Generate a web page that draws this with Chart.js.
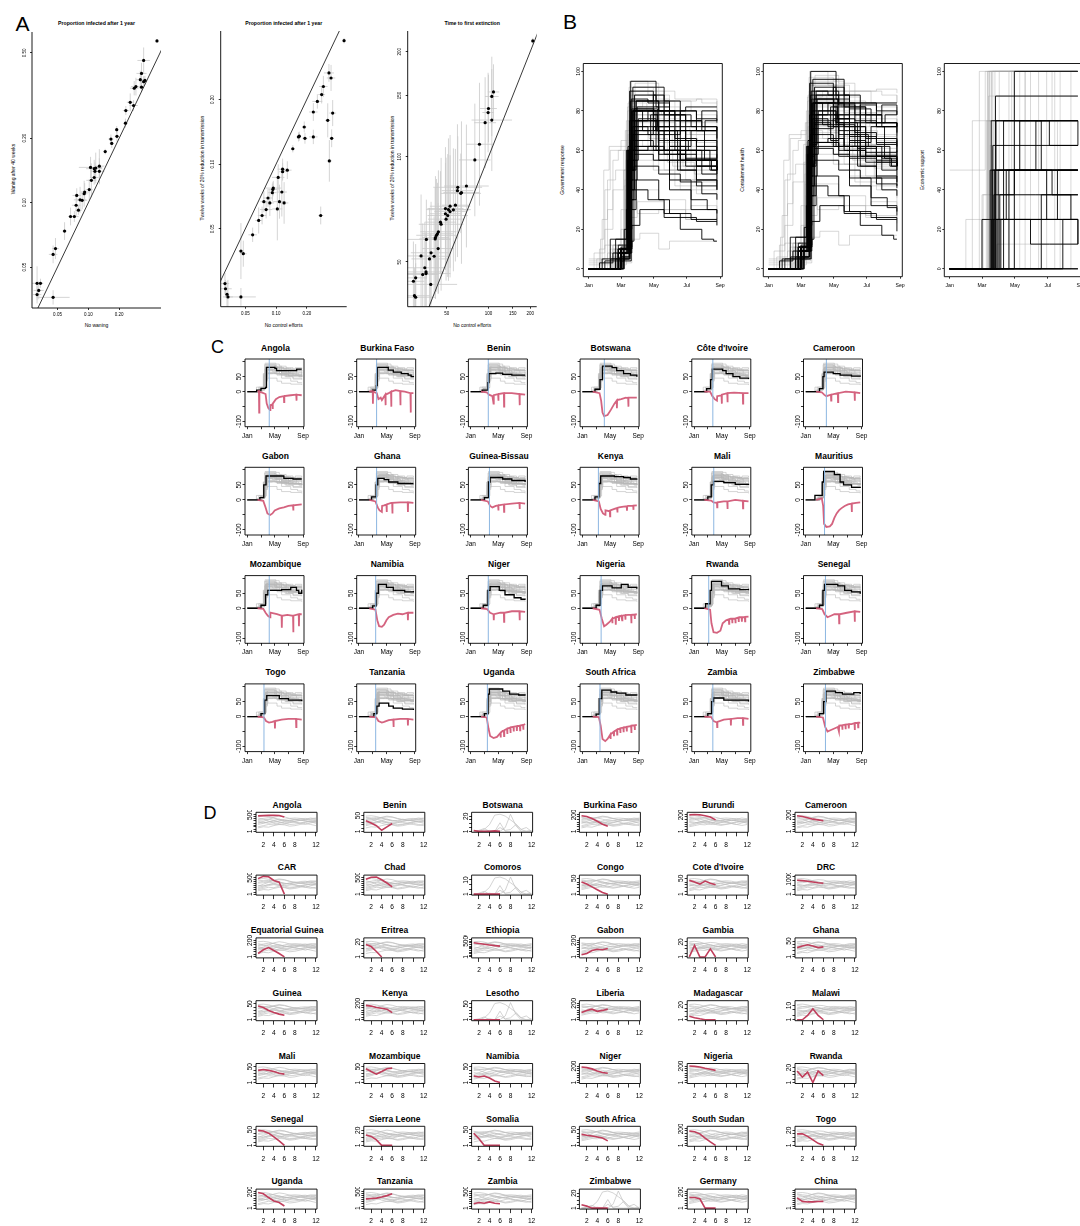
<!DOCTYPE html>
<html><head><meta charset="utf-8"><title>African epidemic interventions</title>
<script src="https://cdn.jsdelivr.net/npm/chart.js"></script>
<style>
html,body{margin:0;padding:0;background:#fff;}
#fig{position:relative;width:1080px;height:1226px;overflow:hidden;background:#fff;}
#fig canvas{position:absolute;}
.t{position:absolute;white-space:nowrap;line-height:1;color:#000;font-family:'Liberation Sans',Arial,Helvetica,sans-serif;transform:translate(-50%,-50%);}
.t.v{transform:translate(-50%,-50%) rotate(-90deg);}
.t.b{font-weight:bold;}
</style></head><body><div id="fig"></div>
<script>
// ================= Panel A: scenario comparisons (log-log) =================
const a1X = [0.467,0.346,0.330,0.321,0.356,0.346,0.291,0.280,0.330,0.256,0.276,0.232,0.230,0.189,0.190,0.166,0.169,0.146,0.105,0.128,0.118,0.114,0.116,0.128,0.114,0.107,0.102,0.092,0.091,0.077,0.083,0.087,0.076,0.080,0.067,0.073,0.0586,0.0478,0.0453,0.0316,0.0341,0.0328,0.0316,0.0453];
const a1Y = [0.569,0.461,0.401,0.375,0.372,0.367,0.348,0.342,0.346,0.294,0.284,0.269,0.235,0.219,0.204,0.198,0.189,0.173,0.146,0.148,0.145,0.144,0.140,0.140,0.131,0.127,0.115,0.112,0.110,0.108,0.103,0.1025,0.0972,0.0922,0.0861,0.0861,0.0736,0.0610,0.0573,0.0420,0.0420,0.0389,0.0372,0.0361];
const a1Ex = [1.03,1.15,1.12,1.1,1.05,1.08,1.12,1.1,1.06,1.08,1.1,1.07,1.05,1.04,1.05,1.06,1.05,1.03,1.3,1.12,1.15,1.2,1.1,1.12,1.1,1.12,1.08,1.1,1.08,1.1,1.15,1.12,1.1,1.08,1.06,1.1,1.05,1.08,1.1,1.15,1.05,1.12,1.1,1.45];
const a1Ey = [1.02,1.15,1.12,1.1,1.05,1.06,1.1,1.08,1.05,1.1,1.06,1.05,1.05,1.04,1.06,1.05,1.05,1.03,1.12,1.2,1.18,1.1,1.1,1.15,1.08,1.2,1.12,1.1,1.15,1.08,1.15,1.1,1.12,1.05,1.1,1.06,1.1,1.12,1.1,1.2,1.05,1.1,1.1,1.08];

const a2X = [0.464,0.330,0.346,0.291,0.280,0.254,0.232,0.359,0.321,0.189,0.169,0.166,0.192,0.232,0.351,0.146,0.333,0.129,0.116,0.116,0.105,0.094,0.093,0.114,0.092,0.0834,0.076,0.087,0.108,0.120,0.080,0.103,0.073,0.0676,0.274,0.059,0.0453,0.0478,0.0316,0.032,0.0331,0.0338,0.0453];
const a2Y = [0.376,0.266,0.252,0.230,0.211,0.196,0.175,0.173,0.160,0.149,0.135,0.134,0.132,0.134,0.132,0.118,0.1036,0.0938,0.0948,0.0922,0.0868,0.0774,0.0763,0.0742,0.0737,0.0696,0.0669,0.0660,0.0669,0.0660,0.0615,0.0619,0.0577,0.0547,0.0577,0.0469,0.0394,0.0383,0.0278,0.0263,0.0248,0.0241,0.0241];
const a2Ex = [1.03,1.12,1.1,1.1,1.08,1.12,1.1,1.08,1.06,1.05,1.04,1.05,1.06,1.1,1.05,1.04,1.06,1.1,1.12,1.08,1.15,1.2,1.1,1.12,1.1,1.12,1.08,1.1,1.15,1.1,1.15,1.12,1.1,1.08,1.06,1.1,1.05,1.08,1.1,1.15,1.05,1.12,1.4];
const a2Ey = [1.03,1.1,1.15,1.12,1.1,1.08,1.1,1.15,1.2,1.06,1.05,1.05,1.06,1.08,1.1,1.04,1.25,1.1,1.12,1.1,1.15,1.08,1.08,1.3,1.1,1.1,1.12,1.15,1.2,1.25,1.1,1.4,1.1,1.15,1.1,1.08,1.35,1.15,1.12,1.1,1.15,1.2,1.1];

const a3X = [209,108.7,105.7,100,99.4,105.7,94.6,86.1,79.7,69.3,60.0,59.7,63.8,63.1,57.7,52.8,55.8,48.9,51.4,52.8,48.9,50.8,49.4,45.0,45.5,43.5,42.8,42.1,41.4,41.2,35.6,43.3,38.5,40.5,37.5,32.6,34.7,35.4,35.4,33.5,29.8,28.7,38.3,29.2,29.8];
const a3Y = [215,153.5,149,137.6,134,127.5,125.3,108.7,98.0,82.5,81.8,80.0,79.0,78.6,72.7,72.2,70.5,71.1,70.6,69.7,68.7,67.9,66.3,65.0,64.1,61.0,60.2,59.6,58.7,58.2,58.0,54.6,53.1,51.9,51.0,52.0,48.1,46.8,46.3,46.0,45.0,44.0,43.1,40.0,39.6];
const a3Ex = [1.02,1.1,1.12,1.15,1.1,1.4,1.2,1.25,1.3,1.45,1.5,1.3,1.35,1.4,1.25,1.4,1.3,1.35,1.45,1.3,1.3,1.4,1.35,1.3,1.45,1.35,1.3,1.4,1.25,1.3,1.5,1.3,1.4,1.3,1.35,1.3,1.4,1.35,1.5,1.3,1.2,1.2,1.55,1.3,1.4];
const a3Ey = [1.02,1.2,1.3,1.25,1.3,1.4,1.35,1.5,1.45,1.5,1.4,1.55,1.6,1.3,1.45,1.6,1.5,1.5,1.6,1.45,1.4,1.5,1.5,1.4,1.55,1.5,1.4,1.45,1.5,1.4,1.3,1.35,1.4,1.3,1.4,1.5,1.35,1.3,1.3,1.4,1.25,1.3,1.4,1.2,1.25];

// ================= Panels B/C: response indices, [day of 2020, value] change points =================
const monthTicks = [0, 60, 121, 182, 244];
const monthLabels = ['Jan', 'Mar', 'May', 'Jul', 'Sep'];

const cNames = ['Angola','Burkina Faso','Benin','Botswana',"Côte d'Ivoire",'Cameroon','Gabon','Ghana','Guinea-Bissau','Kenya','Mali','Mauritius','Mozambique','Namibia','Niger','Nigeria','Rwanda','Senegal','Togo','Tanzania','Uganda','South Africa','Zambia','Zimbabwe'];

// government response index (African countries with mobility data)
const govResp = [
 [[0,0],[41,5],[60,11],[80,14],[84,81],[121,78],[128,70],[216,75],[238,75]],
 [[0,0],[60,5],[76,20],[80,81],[128,72],[150,65],[185,60],[215,55],[228,50],[238,52]],
 [[0,0],[50,5],[75,30],[80,60],[110,62],[140,58],[180,55],[238,55]],
 [[0,0],[55,8],[77,40],[88,85],[130,80],[150,70],[180,60],[210,55],[238,50]],
 [[0,0],[55,10],[72,40],[80,75],[125,70],[140,60],[170,50],[200,45],[238,42]],
 [[0,0],[60,10],[75,50],[80,65],[120,60],[150,55],[200,52],[238,50]],
 [[0,0],[55,8],[72,50],[82,80],[130,80],[160,72],[200,70],[238,70]],
 [[0,0],[55,10],[75,50],[82,72],[110,68],[130,60],[170,55],[238,55]],
 [[0,0],[60,8],[78,60],[85,75],[140,70],[180,65],[238,60]],
 [[0,0],[55,10],[72,55],[80,80],[140,78],[180,75],[210,70],[238,72]],
 [[0,0],[60,10],[75,50],[85,62],[130,58],[180,52],[238,50]],
 [[0,0],[40,15],[72,60],[78,95],[125,85],[150,60],[165,50],[200,42],[238,40]],
 [[0,0],[60,10],[80,45],[90,60],[150,62],[190,70],[215,60],[225,50],[238,62]],
 [[0,0],[60,8],[75,50],[85,80],[120,70],[150,60],[200,55],[238,58]],
 [[0,0],[55,10],[75,60],[85,72],[125,60],[150,45],[190,35],[220,30],[238,28]],
 [[0,0],[60,10],[78,60],[88,75],[130,68],[170,80],[200,70],[238,65]],
 [[0,0],[50,15],[70,60],[76,90],[120,75],[150,65],[200,62],[238,65]],
 [[0,0],[60,10],[75,60],[82,80],[140,75],[170,60],[200,55],[238,48]],
 [[0,0],[60,10],[76,55],[85,70],[140,60],[180,55],[238,52]],
 [[0,0],[65,10],[78,35],[88,45],[130,35],[150,28],[190,25],[238,22]],
 [[0,0],[60,10],[76,75],[82,92],[140,85],[170,75],[210,72],[238,70]],
 [[0,0],[60,8],[74,60],[85,88],[125,82],[150,78],[190,72],[238,70]],
 [[0,0],[60,10],[77,50],[85,62],[130,55],[180,55],[238,50]],
 [[0,0],[60,10],[78,50],[88,85],[130,80],[160,75],[210,80],[238,75]]
];
// government response index, other African countries
const govRespOther = [
 [[0,0],[20,3],[45,8],[70,30],[78,85],[120,88],[140,80],[180,82],[238,82]],
 [[0,0],[25,5],[60,10],[74,55],[80,75],[110,80],[125,70],[160,60],[200,45],[238,40]],
 [[0,0],[60,5],[77,65],[84,80],[100,70],[115,78],[130,65],[170,55],[210,48],[238,45]],
 [[0,0],[55,12],[75,40],[85,58],[120,55],[150,40],[190,30],[238,25]],
 [[0,0],[60,8],[78,30],[88,40],[110,35],[140,28],[170,20],[210,15],[232,14],[238,14]],
 [[0,0],[62,4],[79,50],[86,70],[115,62],[130,72],[160,66],[200,60],[238,62]],
 [[0,0],[30,4],[66,20],[76,60],[90,82],[130,78],[180,70],[238,66]],
 [[0,0],[58,6],[75,45],[82,68],[120,72],[150,62],[180,56],[238,60]],
 [[0,0],[64,10],[80,55],[92,76],[125,70],[165,58],[200,52],[238,48]],
 [[0,0],[60,6],[76,35],[84,52],[130,48],[170,44],[210,38],[238,35]],
 [[0,0],[55,8],[73,62],[79,86],[110,84],[150,80],[200,76],[238,74]],
 [[0,0],[66,8],[80,22],[95,30],[140,26],[200,24],[238,24]]
];

// mobility change from baseline (%), with holiday and weekend dips
const mobility = [
 [[45,0],[51,2],[52,-70],[53,0],[65,-3],[80,-8],[85,-40],[92,-55],[100,-62],[101,-45],[110,-42],[111,-58],[112,-40],[125,-25],[140,-18],[160,-15],[161,-35],[162,-15],[190,-12],[214,-10],[215,-30],[216,-10],[238,-12]],
 [[45,0],[60,2],[61,-40],[62,0],[78,-5],[85,-25],[95,-20],[100,-28],[115,-10],[116,-45],[117,-10],[130,-5],[140,0],[141,-50],[142,0],[160,5],[180,2],[181,-45],[182,2],[200,0],[225,-5],[226,-70],[227,-5],[238,-5]],
 [[45,0],[70,-2],[80,-10],[95,-15],[100,-40],[101,-12],[120,-8],[121,-30],[122,-8],[145,-5],[146,-50],[147,-5],[180,-5],[213,-8],[214,-45],[215,-8],[238,-10]],
 [[45,0],[75,-5],[82,-30],[88,-70],[95,-82],[110,-78],[125,-60],[140,-40],[150,-30],[151,-55],[152,-28],[170,-25],[190,-20],[200,-22],[201,-50],[202,-20],[238,-20]],
 [[45,0],[70,0],[80,-15],[90,-25],[100,-30],[101,-15],[120,-12],[121,-40],[122,-10],[145,-5],[146,-35],[147,-5],[175,-3],[213,-5],[214,-40],[215,-5],[238,-5]],
 [[45,0],[70,-2],[80,-10],[90,-15],[110,-10],[111,-30],[112,-10],[140,-5],[141,-35],[142,-5],[175,0],[213,-2],[214,-30],[215,-2],[238,-5]],
 [[45,0],[70,-3],[80,-25],[88,-45],[100,-50],[110,-45],[120,-35],[140,-28],[160,-25],[180,-20],[200,-18],[201,-35],[202,-18],[238,-15]],
 [[45,0],[72,-5],[82,-25],[90,-35],[100,-40],[101,-20],[110,-18],[120,-15],[121,-40],[122,-15],[140,-10],[145,-12],[146,-45],[147,-10],[180,-8],[213,-8],[214,-40],[215,-8],[238,-10]],
 [[45,0],[75,-5],[85,-20],[95,-25],[110,-20],[120,-18],[121,-35],[122,-18],[145,-15],[146,-40],[147,-15],[180,-12],[213,-10],[214,-30],[215,-10],[238,-12]],
 [[45,0],[72,-5],[80,-30],[90,-45],[100,-50],[101,-35],[120,-38],[121,-55],[122,-35],[140,-30],[152,-27],[153,-42],[154,-27],[160,-25],[180,-22],[194,-21],[195,-36],[196,-21],[200,-20],[222,-19],[223,-33],[224,-19],[238,-18]],
 [[45,0],[75,-2],[85,-8],[100,-10],[101,-25],[102,-8],[130,-5],[145,-5],[146,-30],[147,-5],[180,0],[213,-3],[214,-28],[215,-3],[238,-5]],
 [[45,0],[70,5],[76,-20],[80,-80],[90,-90],[105,-88],[115,-80],[125,-60],[135,-45],[145,-35],[155,-28],[170,-20],[185,-15],[200,-12],[201,-40],[202,-12],[220,-10],[238,-8]],
 [[45,0],[70,-2],[80,-15],[90,-25],[100,-30],[101,-15],[130,-20],[150,-25],[151,-65],[152,-25],[175,-22],[200,-25],[201,-80],[202,-25],[225,-20],[226,-60],[227,-20],[238,-20]],
 [[45,0],[72,-5],[80,-40],[88,-60],[100,-62],[110,-55],[120,-40],[130,-30],[150,-22],[170,-18],[190,-20],[213,-15],[214,-40],[215,-15],[238,-15]],
 [[45,0],[72,-3],[85,-15],[100,-20],[101,-40],[102,-20],[130,-15],[145,-15],[146,-45],[147,-15],[180,-10],[213,-10],[214,-40],[215,-10],[238,-12]],
 [[45,0],[75,-5],[85,-35],[95,-60],[105,-55],[120,-45],[130,-35],[131,-50],[132,-35],[145,-30],[146,-55],[147,-30],[159,-27],[160,-42],[161,-27],[170,-25],[173,-25],[174,-40],[175,-25],[187,-23],[188,-38],[189,-23],[200,-22],[213,-22],[214,-50],[215,-22],[228,-21],[229,-36],[230,-21],[238,-20]],
 [[45,0],[70,-5],[76,-50],[85,-80],[100,-82],[115,-75],[125,-50],[140,-40],[152,-37],[153,-52],[154,-37],[160,-35],[166,-35],[167,-50],[168,-35],[180,-35],[181,-50],[182,-34],[194,-31],[195,-46],[196,-31],[200,-30],[208,-30],[209,-45],[210,-30],[222,-30],[223,-44],[224,-29],[238,-28]],
 [[45,0],[72,-3],[82,-20],[95,-30],[110,-25],[125,-20],[145,-20],[146,-50],[147,-20],[180,-15],[213,-10],[214,-45],[215,-10],[238,-12]],
 [[45,0],[72,-3],[82,-15],[95,-20],[110,-18],[120,-15],[121,-40],[122,-15],[150,-10],[180,-8],[213,-8],[214,-35],[215,-8],[238,-10]],
 [[45,0],[75,-3],[85,-15],[100,-20],[110,-18],[130,-12],[150,-10],[151,-35],[152,-10],[180,-8],[213,-8],[214,-30],[215,-8],[238,-10]],
 [[45,0],[70,-3],[78,-40],[85,-65],[100,-72],[115,-68],[130,-55],[131,-70],[132,-54],[140,-48],[145,-47],[146,-65],[147,-46],[159,-41],[160,-58],[161,-40],[173,-37],[174,-55],[175,-36],[187,-34],[188,-50],[189,-34],[201,-32],[202,-48],[203,-32],[215,-31],[216,-46],[217,-30],[229,-28],[230,-44],[231,-28],[238,-25]],
 [[45,0],[72,-2],[80,-30],[88,-75],[100,-82],[110,-75],[122,-60],[123,-75],[124,-59],[137,-51],[138,-66],[139,-50],[151,-44],[152,-60],[153,-43],[165,-40],[166,-55],[167,-39],[179,-37],[180,-52],[181,-36],[193,-35],[194,-50],[195,-34],[213,-32],[214,-55],[215,-30],[228,-29],[229,-45],[230,-29],[238,-28]],
 [[45,0],[75,-2],[85,-15],[100,-20],[101,-35],[102,-18],[130,-10],[160,-8],[161,-30],[162,-8],[190,-5],[213,-5],[214,-28],[215,-5],[238,-8]],
 [[45,0],[75,-3],[85,-35],[95,-50],[110,-45],[125,-40],[140,-35],[145,-50],[146,-30],[159,-29],[160,-44],[161,-29],[173,-27],[174,-42],[175,-27],[187,-25],[188,-40],[189,-25],[200,-25],[213,-22],[214,-45],[215,-22],[228,-21],[229,-36],[230,-21],[238,-20]]
];

// reference date marked in each country panel (day of 2020)
const markDay = [96,77,77,96,82,90,96,77,82,70,86,82,96,73,77,82,64,86,73,73,73,77,82,86];

// government response index, rest of the world
const govRespWorld = [
 [[0,0],[20,10],[30,40],[40,60],[60,65],[80,70],[110,60],[140,50],[180,45],[238,40]],
 [[0,0],[25,5],[35,30],[45,55],[55,60],[90,70],[130,55],[180,50],[238,45]],
 [[0,2],[40,8],[65,20],[72,70],[78,90],[130,85],[160,70],[200,65],[238,68]],
 [[0,0],[50,5],[68,40],[75,85],[120,80],[150,65],[190,60],[238,55]],
 [[0,0],[55,10],[70,60],[76,95],[110,90],[140,75],[180,70],[238,72]],
 [[0,0],[45,3],[66,30],[74,75],[130,70],[170,60],[238,58]],
 [[0,5],[30,12],[60,20],[72,80],[150,85],[190,80],[238,85]],
 [[0,0],[60,8],[73,65],[80,88],[140,70],[180,55],[238,50]],
 [[0,0],[50,2],[70,45],[78,70],[120,55],[150,45],[238,40]],
 [[0,0],[60,5],[75,50],[85,60],[130,50],[170,40],[238,35]],
 [[0,0],[55,5],[72,30],[80,40],[130,35],[180,25],[238,22]],
 [[0,0],[60,3],[80,15],[95,18],[130,10],[150,14],[180,14],[238,14]],
 [[0,0],[45,10],[68,70],[75,92],[120,80],[180,75],[238,78]],
 [[0,3],[40,10],[66,50],[72,82],[100,85],[140,75],[200,70],[238,65]],
 [[0,0],[35,8],[60,30],[70,75],[110,78],[150,62],[190,58],[238,60]],
 [[0,0],[55,5],[70,55],[78,78],[115,72],[160,65],[200,62],[238,60]],
 [[0,0],[50,10],[70,70],[80,80],[125,76],[170,70],[238,66]],
 [[0,0],[58,5],[72,45],[80,65],[130,58],[175,52],[238,48]],
 [[0,0],[48,6],[69,55],[77,85],[140,82],[170,72],[238,62]],
 [[0,0],[60,10],[74,40],[82,55],[120,50],[160,42],[200,38],[238,30]],
 [[0,0],[62,8],[76,35],[90,28],[130,30],[180,25],[238,26]],
 [[0,0],[15,5],[25,25],[35,45],[50,50],[80,60],[120,55],[160,50],[238,48]],
 [[0,0],[52,12],[70,60],[80,90],[110,88],[150,85],[200,86],[238,84]],
 [[0,4],[45,12],[67,45],[75,70],[150,65],[200,60],[238,55]],
 [[0,0],[22,15],[28,50],[38,62],[70,65],[100,62],[150,55],[238,50]],
 [[0,0],[10,8],[30,20],[45,40],[65,50],[75,75],[120,72],[180,68],[238,66]],
 [[0,0],[62,12],[72,68],[80,82],[130,78],[170,74],[238,70]],
 [[0,0],[58,6],[70,50],[76,88],[125,86],[150,80],[200,78],[238,76]],
 [[0,0],[50,4],[68,35],[78,62],[140,60],[190,55],[238,52]],
 [[0,0],[64,10],[76,72],[86,94],[130,90],[160,86],[210,84],[238,80]],
 [[0,0],[40,6],[70,52],[80,74],[118,68],[155,58],[190,52],[238,47]],
 [[0,0],[56,9],[71,48],[79,80],[135,78],[180,62],[238,58]],
 [[0,0],[66,14],[78,58],[88,72],[128,64],[168,56],[238,54]],
 [[0,0],[48,10],[66,42],[74,68],[112,66],[146,54],[196,48],[238,44]],
 [[0,0],[60,4],[78,26],[90,34],[140,30],[190,32],[238,30]],
 [[0,0],[54,8],[72,64],[79,78],[122,74],[162,66],[202,64],[238,70]],
 [[0,0],[45,12],[65,60],[73,84],[108,80],[148,72],[188,68],[238,64]],
 [[0,0],[61,6],[75,55],[83,70],[116,60],[156,52],[196,44],[238,40]]
];

// containment and health index, African countries
const containAfrica = [
 [[0,0],[41,6],[60,12],[80,15],[84,86],[121,82],[128,74],[216,78],[238,78]],
 [[10,0],[60,6],[76,22],[80,86],[128,76],[150,68],[185,62],[215,56],[228,52],[238,54]],
 [[0,0],[50,6],[75,32],[80,64],[110,66],[140,60],[180,57],[238,57]],
 [[0,0],[55,9],[77,42],[88,90],[130,84],[150,72],[180,62],[210,56],[238,52]],
 [[0,0],[55,11],[72,42],[80,80],[125,74],[140,62],[170,52],[200,46],[238,44]],
 [[0,0],[60,11],[75,52],[80,68],[120,62],[150,56],[200,54],[238,52]],
 [[0,0],[55,9],[72,52],[82,84],[130,84],[160,75],[200,72],[238,72]],
 [[0,0],[55,11],[75,52],[82,76],[110,72],[130,62],[170,57],[238,57]],
 [[0,0],[60,9],[78,62],[85,78],[140,72],[180,66],[238,62]],
 [[0,0],[55,11],[72,58],[80,84],[140,82],[180,78],[210,72],[238,74]],
 [[0,0],[60,11],[75,52],[85,64],[130,60],[180,54],[238,52]],
 [[0,0],[40,16],[72,62],[78,100],[125,88],[150,62],[165,52],[200,43],[238,41]],
 [[0,0],[60,11],[80,47],[90,62],[150,64],[190,72],[215,62],[225,52],[238,64]],
 [[0,0],[60,9],[75,52],[85,84],[120,72],[150,62],[200,57],[238,60]],
 [[0,0],[55,11],[75,62],[85,75],[125,62],[150,46],[190,36],[220,31],[238,29]],
 [[0,0],[60,11],[78,62],[88,78],[130,70],[170,83],[200,72],[238,67]],
 [[0,0],[50,16],[70,62],[76,94],[120,78],[150,67],[200,64],[238,67]],
 [[0,0],[60,11],[75,62],[82,84],[140,78],[170,62],[200,57],[238,50]],
 [[0,0],[60,11],[76,57],[85,73],[140,62],[180,57],[238,54]],
 [[0,0],[65,11],[78,37],[88,47],[130,37],[150,29],[190,26],[238,19]],
 [[0,0],[60,11],[76,78],[82,96],[140,88],[170,78],[210,74],[238,72]],
 [[0,0],[60,9],[74,62],[85,92],[125,86],[150,81],[190,74],[238,72]],
 [[0,0],[60,11],[77,52],[85,64],[130,57],[180,57],[238,52]],
 [[0,0],[60,11],[78,52],[88,88],[130,83],[160,78],[210,83],[238,78]],
 [[0,0],[20,4],[45,9],[70,32],[78,88],[120,92],[140,84],[180,84],[238,84]],
 [[0,0],[25,5],[60,11],[74,58],[80,78],[110,84],[125,73],[160,62],[200,47],[238,42]],
 [[0,0],[60,5],[77,68],[84,84],[100,73],[115,82],[130,68],[170,57],[210,50],[238,46]],
 [[0,0],[55,13],[75,42],[85,61],[120,58],[150,42],[190,32],[238,27]],
 [[0,0],[60,9],[78,32],[88,42],[110,37],[140,29],[170,22],[210,17],[232,15],[238,15]],
 [[0,0],[62,5],[79,53],[86,74],[115,65],[130,76],[160,69],[200,63],[238,65]],
 [[0,0],[30,5],[66,21],[76,63],[90,86],[130,82],[180,74],[238,69]],
 [[0,0],[58,6],[75,47],[82,71],[120,76],[150,65],[180,59],[238,63]],
 [[0,0],[64,11],[80,58],[92,80],[125,74],[165,61],[200,55],[238,50]],
 [[0,0],[60,6],[76,37],[84,55],[130,50],[170,46],[210,40],[238,37]],
 [[0,0],[55,9],[73,65],[79,90],[110,88],[150,84],[200,80],[238,78]],
 [[0,0],[66,9],[80,24],[95,32],[140,28],[200,25],[238,25]]
];

// containment and health index, rest of the world
const containWorld = [
 [[0,0],[20,12],[30,45],[40,66],[60,70],[80,76],[110,64],[140,53],[180,47],[238,42]],
 [[0,0],[25,6],[35,33],[45,60],[55,65],[90,76],[130,58],[180,52],[238,47]],
 [[0,2],[40,9],[65,22],[72,75],[78,96],[130,90],[160,74],[200,68],[238,71]],
 [[0,0],[50,6],[68,43],[75,90],[120,85],[150,68],[190,63],[238,57]],
 [[0,0],[55,11],[70,64],[76,100],[110,95],[140,79],[180,74],[238,76]],
 [[0,0],[45,3],[66,32],[74,80],[130,74],[170,63],[238,60]],
 [[0,5],[30,13],[60,22],[72,85],[150,90],[190,84],[238,88]],
 [[0,0],[60,9],[73,70],[80,93],[140,74],[180,58],[238,52]],
 [[0,0],[50,2],[70,48],[78,74],[120,58],[150,47],[238,42]],
 [[0,0],[60,5],[75,53],[85,64],[130,53],[170,42],[238,36]],
 [[0,0],[55,5],[72,32],[80,43],[130,37],[180,27],[238,23]],
 [[0,0],[60,3],[80,16],[95,19],[130,12],[150,17],[180,17],[238,17]],
 [[0,0],[45,11],[68,74],[75,97],[120,85],[180,79],[238,82]],
 [[0,3],[40,11],[66,53],[72,87],[100,90],[140,79],[200,74],[238,68]],
 [[0,0],[35,9],[60,32],[70,80],[110,83],[150,66],[190,61],[238,63]],
 [[0,0],[55,5],[70,58],[78,83],[115,76],[160,68],[200,65],[238,63]],
 [[0,0],[50,11],[70,74],[80,85],[125,80],[170,74],[238,69]],
 [[0,0],[58,5],[72,48],[80,69],[130,61],[175,55],[238,50]],
 [[0,0],[48,6],[69,58],[77,90],[140,87],[170,76],[238,65]],
 [[0,0],[60,11],[74,43],[82,58],[120,53],[160,44],[200,40],[238,31]],
 [[0,0],[62,9],[76,37],[90,30],[130,32],[180,26],[238,27]],
 [[0,0],[15,6],[25,27],[35,48],[50,53],[80,64],[120,58],[160,53],[238,50]],
 [[0,0],[52,13],[70,64],[80,95],[110,93],[150,90],[200,91],[238,89]],
 [[0,4],[45,13],[67,48],[75,74],[150,69],[200,63],[238,58]],
 [[0,0],[22,16],[28,55],[38,68],[70,70],[100,66],[150,58],[238,53]],
 [[0,0],[10,9],[30,22],[45,44],[65,54],[75,80],[120,76],[180,72],[238,70]],
 [[0,0],[62,13],[72,72],[80,87],[130,83],[170,78],[238,74]],
 [[0,0],[58,6],[70,53],[76,93],[125,90],[150,84],[200,82],[238,80]],
 [[0,0],[50,4],[68,37],[78,66],[140,64],[190,58],[238,55]],
 [[0,0],[64,11],[76,76],[86,98],[130,94],[160,90],[210,88],[238,84]],
 [[0,0],[40,6],[70,55],[80,78],[118,72],[155,61],[190,55],[238,50]],
 [[0,0],[56,10],[71,51],[79,84],[135,82],[180,66],[238,61]],
 [[0,0],[66,15],[78,61],[88,76],[128,67],[168,59],[238,57]],
 [[0,0],[48,11],[66,44],[74,72],[112,70],[146,57],[196,51],[238,46]],
 [[0,0],[60,4],[78,27],[90,36],[140,32],[190,34],[238,32]],
 [[0,0],[54,9],[72,67],[79,82],[122,78],[162,70],[202,67],[238,74]],
 [[0,0],[45,13],[65,63],[73,88],[108,84],[148,76],[188,72],[238,67]],
 [[0,0],[61,6],[75,58],[83,74],[116,63],[156,55],[196,46],[238,42]]
];

// economic support index
const econAfrica = [
 [[0,0],[60,25],[238,25]],
 [[0,0],[75,50],[238,50]],
 [[0,0],[77,75],[185,62.5],[238,62.5]],
 [[0,0],[80,62.5],[238,62.5]],
 [[0,0],[85,87.5],[238,87.5]],
 [[0,0],[120,100],[238,100]],
 [[0,0],[78,25],[238,25]],
 [[0,0],[82,37.5],[120,50],[190,37.5],[238,37.5]],
 [[0,0],[90,50],[180,25],[238,25]],
 [[0,0],[100,75],[238,75]],
 [[0,0],[95,25],[150,12.5],[185,12.5],[238,25]],
 [[0,0],[110,50],[238,50]],
 [[0,0],[238,0]],
 [[0,0],[170,37.5],[225,25],[238,12.5]],
 [[0,0],[210,25],[238,25]],
 [[0,0],[83,50],[160,75],[238,75]],
 [[0,0],[88,25],[200,50],[238,50]],
 [[0,0],[140,0],[238,0]],
 [[0,0],[79,50],[130,75],[170,50],[238,50]],
 [[0,0],[81,25],[105,50],[238,50]],
 [[0,0],[86,75],[150,75],[238,62.5]],
 [[0,0],[93,37.5],[160,37.5],[238,37.5]]
];
const econWorld = [
 [[0,50],[66,100],[238,100]],
 [[0,0],[30,25],[70,75],[238,75]],
 [[0,0],[42,75],[238,75]],
 [[0,0],[55,100],[238,100]],
 [[0,0],[70,100],[238,100]],
 [[0,0],[72,87.5],[238,87.5]],
 [[0,0],[74,100],[238,100]],
 [[0,0],[75,62.5],[238,62.5]],
 [[0,0],[62,37.5],[80,100],[238,100]],
 [[0,0],[76,50],[238,50]],
 [[0,0],[78,100],[238,100]],
 [[0,0],[81,75],[238,75]],
 [[0,0],[84,100],[238,100]],
 [[0,0],[88,12.5],[238,12.5]],
 [[0,0],[92,100],[238,100]],
 [[0,0],[110,100],[238,100]],
 [[0,0],[130,100],[238,100]],
 [[0,0],[150,100],[238,100]],
 [[0,0],[165,100],[238,100]],
 [[0,0],[180,100],[238,100]],
 [[0,0],[205,100],[238,100]],
 [[0,0],[225,100],[238,100]],
 [[0,0],[60,37.5],[238,37.5]],
 [[0,0],[73,75],[200,50],[238,50]],
 [[0,0],[71,100],[140,50],[238,50]],
 [[0,0],[73,100],[190,75],[238,75]],
 [[0,0],[77,100],[238,100]],
 [[0,0],[79,50],[115,100],[238,100]],
 [[0,0],[68,75],[238,75]],
 [[0,0],[120,100],[238,100]],
 [[0,0],[140,100],[238,100]],
 [[0,0],[195,100],[238,100]]
];

// ================= Panel D: weekly incidence by week since start =================
const dNames = ['Angola','Benin','Botswana','Burkina Faso','Burundi','Cameroon','CAR','Chad','Comoros','Congo',"Cote d'Ivoire",'DRC','Equatorial Guinea','Eritrea','Ethiopia','Gabon','Gambia','Ghana','Guinea','Kenya','Lesotho','Liberia','Madagascar','Malawi','Mali','Mozambique','Namibia','Niger','Nigeria','Rwanda','Senegal','Sierra Leone','Somalia','South Africa','South Sudan','Togo','Uganda','Tanzania','Zambia','Zimbabwe','Germany','China'];
const dLabel = [500,50,20,200,200,200,500,500,10,50,50,10000,200,20,5000,200,20,50,50,200,50,200,20,10,50,50,50,200,200,20,50,20,50,50,200,20,200,500,500,20,200,0];
const dTop = [1100,110,45,450,450,450,1100,1100,22,110,110,22000,450,45,11000,450,45,110,110,450,110,450,45,22,110,110,110,450,450,45,110,45,110,110,450,45,450,1100,1100,45,450,2000];
const dObserved = [
 [300,320,350,380,330,200],[14,8,4,1.3,3,7],[1.2,1,1,1,1.1,1],[150,120,60,25,10,5],[200,220,200,150,100,40],[150,120,80,50,40,30],
 [300,700,600,150,80,1],[250,500,550,200,60,15],[1,1,1,1,1,1],[20,12,6,3,1.5,1],[30,20,12,25,15,10],[1500,1200,900,600,400,300],
 [3,10,20,8,3,1],[12,8,3,1],[1000,700,500,350,250,200],[2,3,8,12,10,15],[1,10,1,1,5,1],[10,15,20,15,10,12],
 [30,20,10,6,4,3],[100,80,50,40,30,10],[1,1,1,1,1,1],[10,20,30,15,20,30],[2,1.5,1.2,1,1,1],[1,1,2,6,2,1],
 [20,25,20,15,10,8],[30,15,8,15,30,35],[5,4,5,3,1.5,1],[150,120,80,40,25,20],[200,180,150,100,70,50],[10,3,8,1,10,4],
 [40,35,20,8,3,1],[8,6,3,1,1,1],[20,5,1,1,1,1],[15,12,10,8,6,3],[100,80,40,10,3,1],[10,10,6,3,1.5,1],
 [150,100,30,10,6,2],[30,35,40,60,100,200],[5,8,6,10,6,5],[2,1.5,1,1,1,1],[30,30,20,1,1,1],[60,15,12,12,14,15]
];
// simulated trajectories, as a share of each panel's log range
const dProfiles = [
 [.62,.68,.72,.7,.64,.56,.54,.6,.66,.68,.62,.56],
 [.36,.42,.5,.58,.64,.58,.52,.46,.44,.5,.54,.48],
 [.8,.82,.78,.7,.6,.54,.58,.64,.6,.54,.48,.52],
 [.24,.3,.36,.34,.42,.52,.58,.5,.42,.36,.44,.5],
 [.52,.48,.42,.46,.55,.63,.68,.7,.68,.62,.58,.63],
 [.7,.64,.54,.42,.36,.38,.45,.52,.58,.56,.5,.42],
 [.42,.52,.62,.74,.8,.76,.68,.62,.58,.6,.66,.7],
 [.18,.24,.22,.3,.36,.34,.27,.3,.36,.42,.36,.3],
 [.58,.6,.64,.58,.5,.45,.47,.53,.58,.64,.7,.66],
 [.46,.44,.5,.53,.47,.42,.36,.38,.43,.47,.52,.56],
 [.74,.7,.67,.72,.76,.74,.67,.6,.56,.58,.6,.64],
 [.3,.36,.45,.5,.45,.36,.31,.36,.41,.36,.31,.36]
];
const dSparseProfiles = [
 [0,0,.1,.35,.85,.9,.8,.6,.4,.1,.2,0],
 [0,0,0,0,0,.45,0,0,0,0,0,0],
 [0,0,0,.05,0,0,.2,.9,.3,0,0,0],
 [0,.05,.15,0,0,.2,.05,.1,.35,.1,0,.05]
];
const dSparse = ['Botswana','Comoros','Lesotho','Zimbabwe'];

// ================= drawing helpers =================
const FONT = "'Liberation Sans', Arial, Helvetica, sans-serif";
Chart.defaults.font.family = FONT;
Chart.defaults.color = '#000';
Chart.defaults.elements.point.radius = 0;
Chart.defaults.elements.line.tension = 0;
const fig = document.getElementById('fig');

function txt(s, x, y, size, cls) {
  const d = document.createElement('div');
  d.className = 't' + (cls ? ' ' + cls : '');
  d.textContent = s;
  d.style.left = x + 'px'; d.style.top = y + 'px'; d.style.fontSize = size + 'px';
  fig.appendChild(d);
}
const idxOf = (list, v) => list.findIndex(t => Math.abs(t - v) <= Math.abs(t) * 1e-6 + 1e-9);
const pts = arr => arr.map(([x, y]) => ({ x, y }));
const line = (arr, color, w, stepped) => ({ data: pts(arr), borderColor: color, borderWidth: w, pointRadius: 0, fill: false, stepped: !!stepped, spanGaps: true });

function axis(o) {
  const horiz = o.pos === 'bottom';
  return {
    type: o.type || 'linear', position: o.pos, min: o.min, max: o.max, bounds: 'data',
    afterBuildTicks: s => { s.ticks = o.ticks.map(v => ({ value: v })); },
    afterFit: s => {
      if (horiz) s.height = o.fit; else s.width = o.fit;
      s.paddingLeft = 0; s.paddingRight = 0; s.paddingTop = 0; s.paddingBottom = 0;
    },
    ticks: {
      display: horiz, autoSkip: false, maxRotation: 0, minRotation: 0, color: '#000',
      padding: o.pad || 2, font: { size: o.size, family: FONT },
      callback: v => { const i = idxOf(o.ticks, v); return (i >= 0 && o.labels) ? o.labels[i] : ''; }
    },
    grid: { drawOnChartArea: false, drawTicks: true, tickLength: o.tl, color: '#000', lineWidth: 0.8 },
    border: { display: false }
  };
}

// R-style frame plus rotated y tick labels
function framePlugin(ax) {
  return {
    id: 'rFrame',
    afterDatasetsDraw(chart) {
      const { ctx, chartArea: ca } = chart; const ys = chart.scales.y;
      ctx.save();
      ctx.strokeStyle = '#000'; ctx.lineWidth = ax.lw || 0.9;
      ctx.beginPath();
      if (ax.frame === 'L') { ctx.moveTo(ca.left, ca.top); ctx.lineTo(ca.left, ca.bottom); ctx.lineTo(ca.right, ca.bottom); }
      else ctx.rect(ca.left, ca.top, ca.right - ca.left, ca.bottom - ca.top);
      ctx.stroke();
      ctx.fillStyle = '#000'; ctx.font = ax.size + 'px ' + FONT;
      ctx.textAlign = 'center'; ctx.textBaseline = 'alphabetic';
      ax.yLabels.forEach(([v, s]) => {
        ctx.save(); ctx.translate(ca.left - ax.off, ys.getPixelForValue(v)); ctx.rotate(-Math.PI / 2);
        ctx.fillText(s, 0, 0); ctx.restore();
      });
      ctx.restore();
    }
  };
}
// grey interval bars around each estimate (multiplicative half-widths)
function errPlugin(e) {
  return {
    id: 'rErr',
    beforeDatasetsDraw(chart) {
      if (!e) return;
      const { ctx, chartArea: ca } = chart; const xs = chart.scales.x, ys = chart.scales.y;
      ctx.save();
      ctx.beginPath(); ctx.rect(ca.left, ca.top, ca.right - ca.left, ca.bottom - ca.top); ctx.clip();
      ctx.strokeStyle = '#c9c9c9'; ctx.lineWidth = 0.8;
      ctx.beginPath();
      e.x.forEach((xv, i) => {
        const yv = e.y[i], fx = e.ex[i] || 1.1, fy = e.ey[i] || 1.1;
        const px = xs.getPixelForValue(xv), py = ys.getPixelForValue(yv);
        ctx.moveTo(xs.getPixelForValue(xv / fx), py); ctx.lineTo(xs.getPixelForValue(xv * fx), py);
        ctx.moveTo(px, ys.getPixelForValue(yv / fy)); ctx.lineTo(px, ys.getPixelForValue(yv * fy));
      });
      ctx.stroke(); ctx.restore();
    }
  };
}

function mkChart(box, pad, datasets, xo, yo, ax, err) {
  const [l, t, r, b] = box;
  const cx = Math.floor(l - pad[0]), cy = Math.floor(t - pad[1]);
  const cw = Math.ceil(r + pad[2]) - cx, ch = Math.ceil(b + pad[3]) - cy;
  const cv = document.createElement('canvas');
  cv.width = cw; cv.height = ch;
  cv.style.left = cx + 'px'; cv.style.top = cy + 'px'; cv.style.width = cw + 'px'; cv.style.height = ch + 'px';
  fig.appendChild(cv);
  return new Chart(cv, {
    type: 'line',
    data: { datasets: datasets.slice().reverse() }, // first dataset is painted last
    options: {
      responsive: false, animation: false, devicePixelRatio: 1, events: [],
      layout: { padding: { left: 0, top: t - cy, right: cx + cw - r, bottom: 0 } },
      scales: {
        x: axis(Object.assign({ pos: 'bottom', fit: cy + ch - b }, xo)),
        y: axis(Object.assign({ pos: 'left', fit: l - cx }, yo))
      },
      plugins: { legend: { display: false }, tooltip: { enabled: false }, title: { display: false } }
    },
    plugins: [framePlugin(ax), errPlugin(err)]
  });
}

// ================= Panel A =================
txt('A', 22.5, 22.5, 21);
const aPanels = [
  { box: [32, 30, 161, 308], xs: a1X, ys: a1Y, ex: a1Ex, ey: a1Ey, xr: [0.0282, 0.511], yr: [0.0322, 0.626],
    xt: [0.05, 0.1, 0.2], xl: ['0.05', '0.10', '0.20'], yt: [0.05, 0.1, 0.2, 0.5], yl: ['0.05', '0.10', '0.20', '0.50'],
    title: 'Proportion infected after 1 year', ylab: 'Waning after 40 weeks', xlab: 'No waning', diag: [0.01, 1], yx: 13 },
  { box: [220.7, 29.3, 346.7, 306.7], xs: a2X, ys: a2Y, ex: a2Ex, ey: a2Ey, xr: [0.0287, 0.4925], yr: [0.0217, 0.417],
    xt: [0.05, 0.1, 0.2], xl: ['0.05', '0.10', '0.20'], yt: [0.05, 0.1, 0.2], yl: ['0.05', '0.10', '0.20'],
    title: 'Proportion infected after 1 year', ylab: 'Twelve weeks of 20% reduction in transmission', xlab: 'No control efforts', diag: [0.01, 1], yx: 202 },
  { box: [407.7, 29.3, 536.7, 306.7], xs: a3X, ys: a3Y, ex: a3Ex, ey: a3Ey, xr: [26.1, 223], yr: [37.2, 229.5],
    xt: [50, 100, 150, 200], xl: ['50', '100', '150', '200'], yt: [50, 100, 150, 200], yl: ['50', '100', '150', '200'],
    title: 'Time to first extinction', ylab: 'Twelve weeks of 20% reduction in transmission', xlab: 'No control efforts', diag: [10, 400], yx: 392 }
];
aPanels.forEach(p => {
  const ds = [
    line([[p.diag[0], p.diag[0]], [p.diag[1], p.diag[1]]], '#222', 0.9),
    { data: p.xs.map((x, i) => ({ x, y: p.ys[i] })), showLine: false, pointRadius: 1.6, pointBackgroundColor: '#000', pointBorderWidth: 0, borderColor: '#000' }
  ];
  mkChart(p.box, [12, 2, 6, 12], ds,
    { type: 'logarithmic', min: p.xr[0], max: p.xr[1], ticks: p.xt, labels: p.xl, size: 4.5, tl: 2, pad: 2.5 },
    { type: 'logarithmic', min: p.yr[0], max: p.yr[1], ticks: p.yt, size: 4.5, tl: 2 },
    { frame: 'L', size: 4.5, off: 6.5, yLabels: p.yt.map((v, i) => [v, p.yl[i]]) },
    { x: p.xs, y: p.ys, ex: p.ex, ey: p.ey });
  const cxm = (p.box[0] + p.box[2]) / 2;
  txt(p.title, cxm, 24, 5.2, 'b');
  txt(p.ylab, p.yx, (p.box[1] + p.box[3]) / 2, 5, 'v');
  txt(p.xlab, cxm, 325, 5);
});

// ================= Panel B =================
txt('B', 570, 21, 21);
const B_GREY = 'rgba(165,165,165,0.55)';
const bPanels = [
  { box: [583.3, 63.5, 722.3, 276.7], grey: govRespWorld, black: govResp.concat(govRespOther), lab: 'Government response', lx: 561.7 },
  { box: [763.3, 63.5, 902.3, 276.7], grey: containWorld, black: containAfrica, lab: 'Containment health', lx: 741.7 },
  { box: [944.3, 63.5, 1083.3, 276.7], grey: econWorld, black: econAfrica, lab: 'Economic support', lx: 921.7 }
];
const bYT = [0, 20, 40, 60, 80, 100];
bPanels.forEach(p => {
  const ds = [];
  p.grey.forEach(s => ds.push(line(s, B_GREY, 0.8, true)));
  p.black.forEach(s => ds.push(line(s, '#000', 0.9, true)));
  mkChart(p.box, [8, 2, 8, 14], ds,
    { min: -10, max: 248, ticks: monthTicks, labels: monthLabels, size: 5.2, tl: 2, pad: 3.5 },
    { min: -4, max: 104, ticks: bYT, size: 5.2, tl: 2 },
    { frame: 'o', size: 5.2, off: 3.2, yLabels: bYT.map(v => [v, String(v)]) });
  txt(p.lab, p.lx, (p.box[1] + p.box[3]) / 2, 5, 'v');
});

// ================= Panel C =================
txt('C', 217.5, 347, 18);
const C_GREY = 'rgba(185,185,185,0.75)', C_RED = 'rgba(208,86,116,0.92)', C_BLUE = 'rgb(140,182,225)';
const cYT = [-100, -50, 0, 50, 100];
cNames.forEach((name, i) => {
  const l = 245 + 111.7 * (i % 6), t = 359 + 108.3 * Math.floor(i / 6);
  const ds = [];
  govResp.forEach(s => ds.push(line(s, C_GREY, 0.8, true)));
  ds.push(line(govResp[i], '#000', 1.3, true));
  ds.push(line(mobility[i], C_RED, 1.8));
  ds.push(line([[markDay[i], -200], [markDay[i], 200]], C_BLUE, 1));
  mkChart([l, t, l + 59, t + 67.7], [14, 2, 9, 16], ds,
    { min: -10, max: 248, ticks: monthTicks, labels: ['Jan', '', 'May', '', 'Sep'], size: 6.5, tl: 2.5, pad: 3 },
    { min: -117, max: 109, ticks: cYT, size: 6.5, tl: 2.5 },
    { frame: 'o', size: 6.5, off: 3.8, yLabels: [[50, '50'], [0, '0'], [-100, '-100']] });
  txt(name, l + 30.5, t - 11.5, 8.5, 'b');
});

// ================= Panel D =================
txt('D', 210, 813, 18);
const D_GREY = 'rgba(190,190,190,0.85)', D_RED = 'rgb(192,62,92)';
const dLefts = [256, 363.8, 471.6, 579.4, 687.2, 795];
function logTicks(lab, top) {
  const out = [], lim = lab || top / 2;
  if (lab >= 10000) { for (let v = 1; v <= lab; v *= 10) out.push(v); return out; }
  for (let d = 1; d <= lim; d *= 10) [1, 2, 5].forEach(m => { if (d * m <= lim) out.push(d * m); });
  return out;
}
dNames.forEach((name, i) => {
  const l = dLefts[i % 6], t = 812.3 + 62.8 * Math.floor(i / 6);
  const top = dTop[i];
  const prof = dSparse.includes(name) ? dSparseProfiles : dProfiles.map((_, k) => dProfiles[(i * 5 + k) % dProfiles.length]).slice(0, 10);
  const ds = [];
  prof.forEach(p => ds.push(line(p.map((f, w) => [w + 1, Math.pow(top, f)]), D_GREY, 0.8)));
  ds.push(line(dObserved[i].map((v, w) => [w + 1, v]), D_RED, 1.6));
  const yt = logTicks(dLabel[i], top);
  const yl = dLabel[i] ? [[1, '1'], [dLabel[i], String(dLabel[i])]] : [[1, '1']];
  mkChart([l, t, l + 61, t + 20], [14, 2, 8, 17], ds,
    { min: 0.6, max: 12.2, ticks: [2, 4, 6, 8, 10, 12], labels: ['2', '4', '6', '8', '', '12'], size: 6.6, tl: 4, pad: 4.5 },
    { type: 'logarithmic', min: Math.pow(top, -0.05), max: top, ticks: yt, size: 6.6, tl: 2.5 },
    { frame: 'o', size: 6.6, off: 3.8, yLabels: yl });
  txt(name, l + 31, t - 7.8, 8.5, 'b');
});
</script></body></html>
